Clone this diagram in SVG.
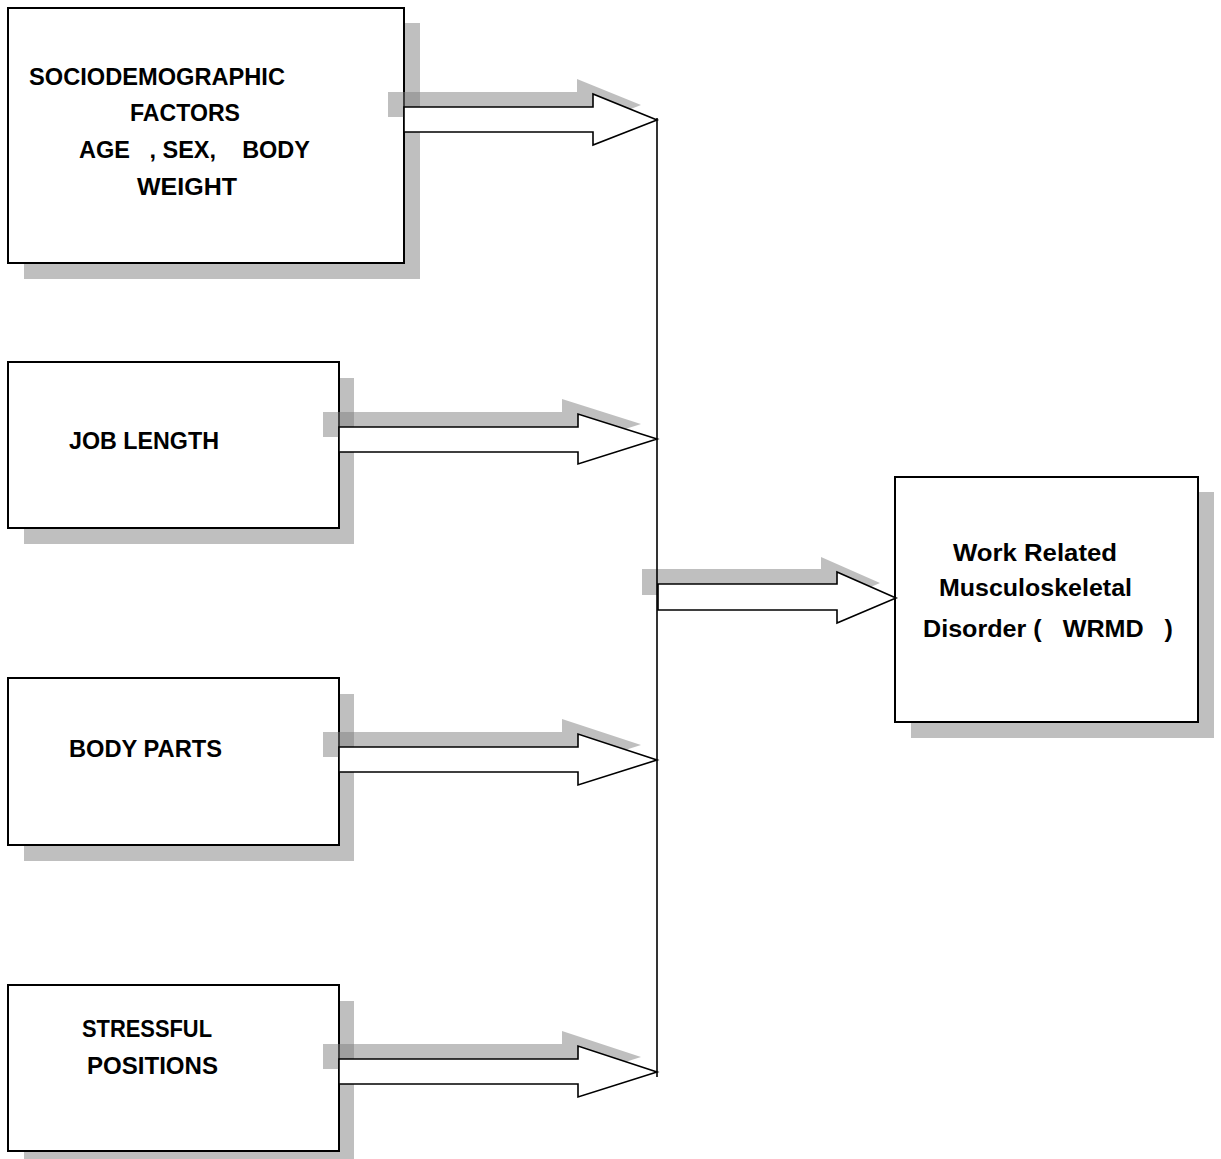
<svg xmlns="http://www.w3.org/2000/svg" width="1221" height="1159" viewBox="0 0 1221 1159">
<style>
.shadow{fill:#808080;fill-opacity:0.5;stroke:none}
.box{fill:#ffffff;stroke:#000000;stroke-width:2}
.arrow{fill:#ffffff;stroke:#000000;stroke-width:1.6;stroke-linejoin:miter}
.line{fill:none;stroke:#000000;stroke-width:1.6}
.t{font-family:"Liberation Sans",Arial,sans-serif;font-weight:bold;font-size:23px;fill:#000000;white-space:pre}
</style>
<rect width="1221" height="1159" fill="#ffffff"/>
<g id="node-sociodemographic">
<rect class="shadow" x="24" y="23" width="396" height="256"/>
<rect class="box" x="8" y="8" width="396" height="255"/>
<text class="t" x="29" y="85" textLength="256" lengthAdjust="spacingAndGlyphs">SOCIODEMOGRAPHIC</text>
<text class="t" x="130" y="121" textLength="110" lengthAdjust="spacingAndGlyphs">FACTORS</text>
<text class="t" x="79" y="158" textLength="231" lengthAdjust="spacingAndGlyphs">AGE   , SEX,    BODY</text>
<text class="t" x="137" y="195" textLength="100" lengthAdjust="spacingAndGlyphs">WEIGHT</text>
</g>
<g id="node-job-length">
<rect class="shadow" x="24" y="378" width="330" height="166"/>
<rect class="box" x="8" y="362" width="331" height="166"/>
<text class="t" x="69" y="449" textLength="150" lengthAdjust="spacingAndGlyphs">JOB LENGTH</text>
</g>
<g id="node-body-parts">
<rect class="shadow" x="24" y="694" width="330" height="167"/>
<rect class="box" x="8" y="678" width="331" height="167"/>
<text class="t" x="69" y="757" textLength="153" lengthAdjust="spacingAndGlyphs">BODY PARTS</text>
</g>
<g id="node-stressful-positions">
<rect class="shadow" x="24" y="1001" width="330" height="166"/>
<rect class="box" x="8" y="985" width="331" height="166"/>
<text class="t" x="82" y="1037" textLength="130" lengthAdjust="spacingAndGlyphs">STRESSFUL</text>
<text class="t" x="87" y="1074" textLength="131" lengthAdjust="spacingAndGlyphs">POSITIONS</text>
</g>
<g id="node-wrmd">
<rect class="shadow" x="911" y="492" width="303" height="246"/>
<rect class="box" x="895" y="477" width="303" height="245"/>
<text class="t" x="953" y="561" textLength="164" lengthAdjust="spacingAndGlyphs">Work Related</text>
<text class="t" x="939" y="596" textLength="193" lengthAdjust="spacingAndGlyphs">Musculoskeletal</text>
<text class="t" x="923" y="637" textLength="250" lengthAdjust="spacingAndGlyphs">Disorder (   WRMD   )</text>
</g>
<g id="connectors">
<g transform="translate(-16,-15)">
<polygon class="shadow" points="404,107 593,107 593,94 657,120 593,145 593,132 404,132"/>
<polygon class="shadow" points="339,427 578,427 578,414 657,439 578,464 578,452 339,452"/>
<polygon class="shadow" points="339,747 578,747 578,734 657,760 578,785 578,772 339,772"/>
<polygon class="shadow" points="339,1059 578,1059 578,1046 657,1072 578,1097 578,1084 339,1084"/>
<polygon class="shadow" points="658,584 837,584 837,572 896,598 837,623 837,610 658,610"/>
</g>
<line class="line" x1="657" y1="118" x2="657" y2="1077"/>
<polygon class="arrow" points="404,107 593,107 593,94 657,120 593,145 593,132 404,132"/>
<polygon class="arrow" points="339,427 578,427 578,414 657,439 578,464 578,452 339,452"/>
<polygon class="arrow" points="339,747 578,747 578,734 657,760 578,785 578,772 339,772"/>
<polygon class="arrow" points="339,1059 578,1059 578,1046 657,1072 578,1097 578,1084 339,1084"/>
<polygon class="arrow" points="658,584 837,584 837,572 896,598 837,623 837,610 658,610"/>
</g>
</svg>
